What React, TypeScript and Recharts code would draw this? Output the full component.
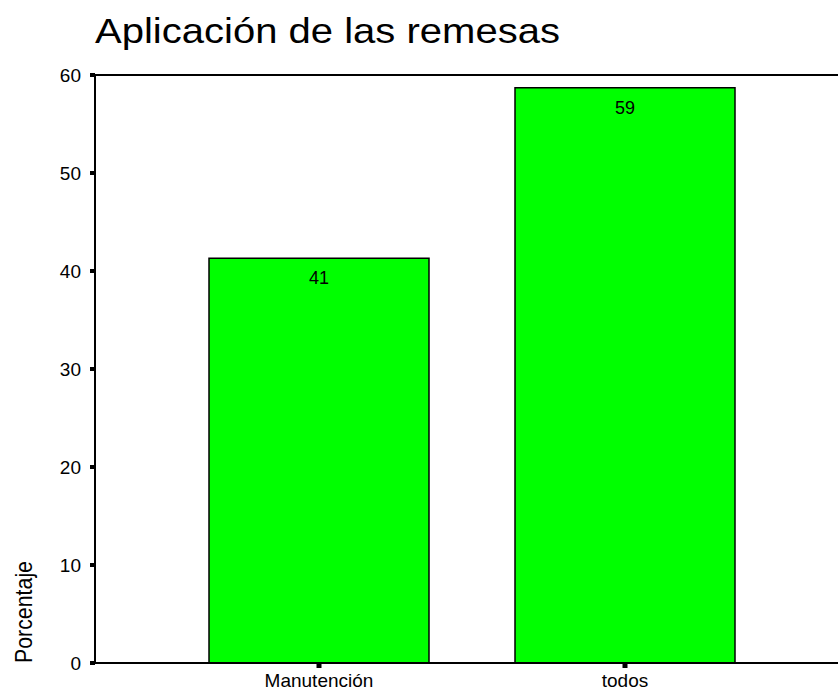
import { BarChart, Bar, XAxis, YAxis, LabelList, Customized } from "recharts"

const categories = ["Manutención", "todos"]
const percentages = [41.3, 58.7]
const yTicks = [0, 10, 20, 30, 40, 50, 60]

const data = categories.map((name, i) => ({ name, value: percentages[i] }))

const font = "'Liberation Sans', Arial, sans-serif"

function Decorations() {
  return (
    <g>
      <text
        x={95}
        y={43}
        fontSize={35}
        fontFamily={font}
        fill="#000"
        textLength={465}
        lengthAdjust="spacingAndGlyphs"
      >
        Aplicación de las remesas
      </text>
      <text
        x={32}
        y={612}
        fontSize={24}
        fontFamily={font}
        fill="#000"
        textAnchor="middle"
        textLength={102}
        lengthAdjust="spacingAndGlyphs"
        transform="rotate(-90, 32, 612)"
      >
        Porcentaje
      </text>
    </g>
  )
}

export default function App() {
  return (
    <div style={{ position: "absolute", left: 0, top: 0, background: "#fff" }}>
      <BarChart
        width={838}
        height={693}
        data={data}
        margin={{ top: 74, right: 0, bottom: 0, left: 0 }}
      >
        <XAxis
          dataKey="name"
          height={30}
          padding={{ left: 71, right: 60 }}
          axisLine={{ stroke: "#000", strokeWidth: 2 }}
          tickLine={{ stroke: "#000", strokeWidth: 5 }}
          tickSize={5}
          tickMargin={6}
          tick={{ fontSize: 19, fill: "#000", fontFamily: font }}
        />
        <XAxis
          xAxisId="top"
          orientation="top"
          dataKey="name"
          height={1}
          tick={false}
          tickLine={false}
          axisLine={{ stroke: "#000", strokeWidth: 2 }}
        />
        <YAxis
          width={95}
          domain={[0, 60]}
          ticks={yTicks}
          interval={0}
          axisLine={{ stroke: "#000", strokeWidth: 2 }}
          tickLine={{ stroke: "#000", strokeWidth: 4 }}
          tickSize={5}
          tickMargin={9}
          tick={{ fontSize: 19, fill: "#000", fontFamily: font }}
        />
        <Bar
          dataKey="value"
          fill="#00ff00"
          stroke="#000"
          strokeWidth={1.5}
          barSize={220}
          isAnimationActive={false}
        >
          <LabelList
            dataKey="value"
            position="insideTop"
            offset={13}
            formatter={(v: number) => Math.round(v)}
            style={{ fontSize: 18, fill: "#000", fontFamily: font }}
          />
        </Bar>
        <Customized component={Decorations} />
      </BarChart>
    </div>
  )
}
